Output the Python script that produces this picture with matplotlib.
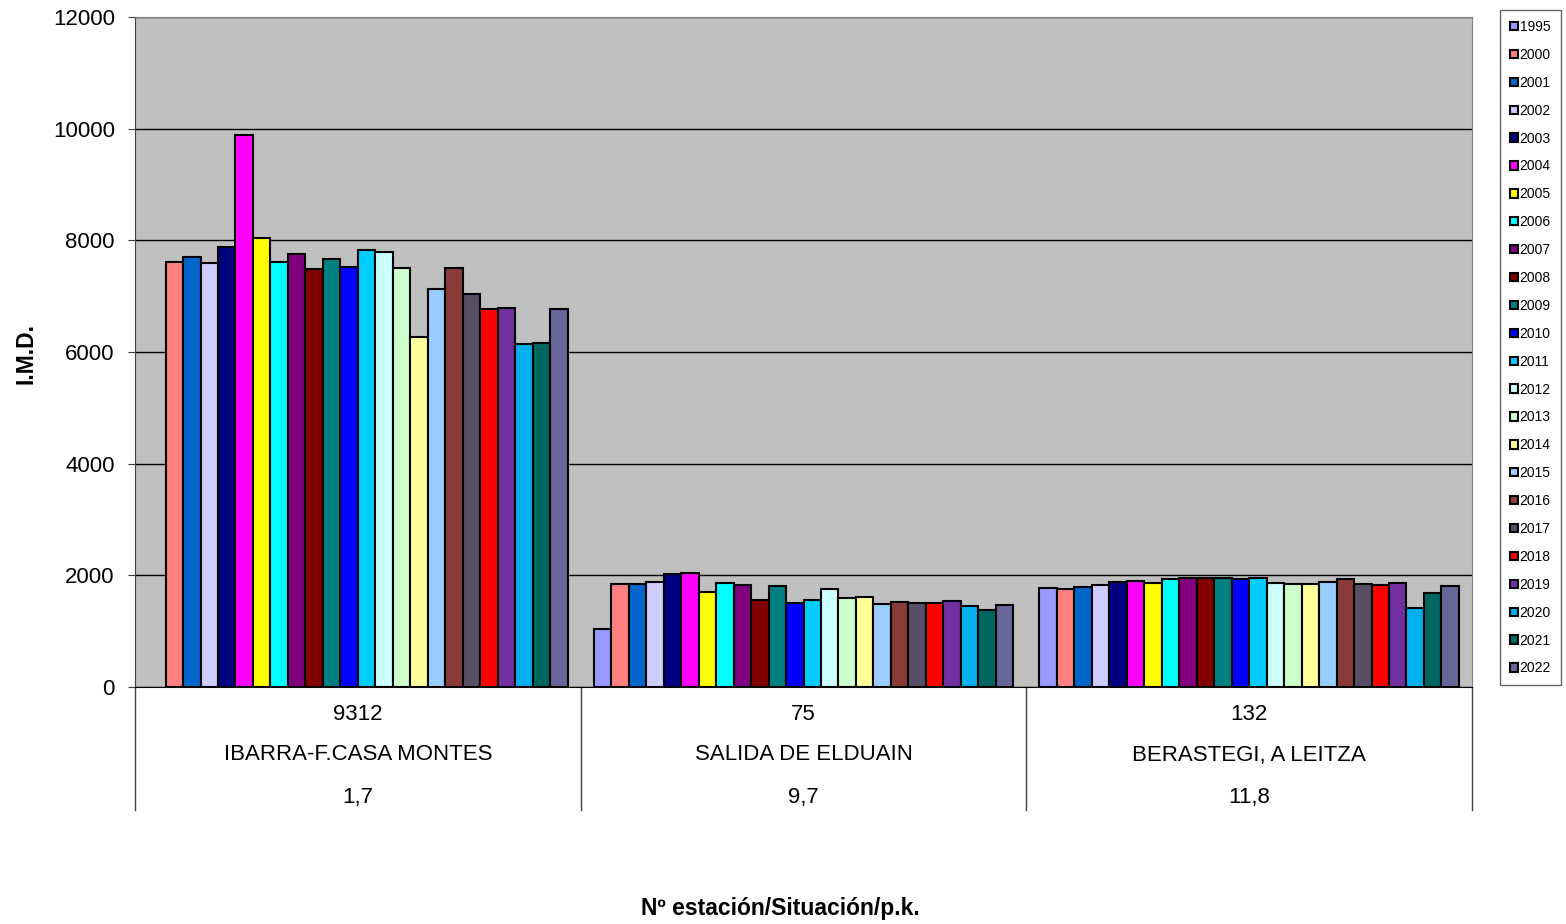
import matplotlib
matplotlib.use("Agg")
import matplotlib.pyplot as plt
import matplotlib.transforms as mtransforms
import numpy as np

plt.rcParams['font.family'] = ['Liberation Sans', 'DejaVu Sans']

years = ['1995', '2000', '2001', '2002', '2003', '2004', '2005', '2006', '2007', '2008',
         '2009', '2010', '2011', '2012', '2013', '2014', '2015', '2016', '2017', '2018',
         '2019', '2020', '2021', '2022']
colors = ['#9999FF', '#FF8080', '#0066CC', '#CCCCFF', '#000080', '#FF00FF', '#FFFF00',
          '#00FFFF', '#800080', '#800000', '#008080', '#0000FF', '#00CCFF', '#CCFFFF',
          '#CCFFCC', '#FFFF99', '#99CCFF', '#8B3A3A', '#564F66', '#FF0000', '#7030A0',
          '#00B0F0', '#006660', '#666699']

stations = ['9312', '75', '132']
places = ['IBARRA-F.CASA MONTES', 'SALIDA DE ELDUAIN', 'BERASTEGI, A LEITZA']
pks = ['1,7', '9,7', '11,8']

# one list per station, ordered like `years` (None = no data)
ibarra = [None, 7610, 7700, 7600, 7880, 9880, 8040, 7620, 7760, 7490, 7670, 7530, 7820,
          7800, 7510, 6270, 7120, 7500, 7030, 6770, 6790, 6150, 6170, 6770]
elduain = [1040, 1850, 1840, 1880, 2020, 2040, 1700, 1860, 1820, 1550, 1810, 1510, 1550,
           1760, 1590, 1620, 1480, 1530, 1510, 1500, 1540, 1450, 1380, 1470]
berastegi = [1780, 1750, 1800, 1830, 1880, 1900, 1860, 1930, 1960, 1950, 1960, 1930, 1950,
             1870, 1840, 1850, 1880, 1930, 1850, 1820, 1860, 1410, 1680, 1810]

data = [ibarra, elduain, berastegi]

fig = plt.figure(figsize=(15.66, 9.24), dpi=100)
ax = fig.add_axes([135 / 1566, 1 - 687 / 924, (1472 - 135) / 1566, (687 - 17) / 924])
ax.set_facecolor('#C0C0C0')

n = len(years)
w = 1 / (n + 1.5)
x = np.arange(len(stations))
handles = []
for j, yr in enumerate(years):
    vals = [np.nan if d[j] is None else d[j] for d in data]
    b = ax.bar(x + (j - (n - 1) / 2) * w, vals, width=w, color=colors[j],
               edgecolor='black', linewidth=1.5, label=yr, zorder=3)
    handles.append(b)

ax.set_xlim(-0.5, 2.5)
ax.set_ylim(0, 12000)
ax.set_yticks(range(0, 12001, 2000))
ax.yaxis.grid(True, color='black', linewidth=1, zorder=1)
ax.tick_params(axis='y', labelsize=16, length=5, color='#404040', pad=9.5)
ax.set_xticks([])
for s in ['top', 'right']:
    ax.spines[s].set_color('#808080')
ax.spines['left'].set_color('#404040')
ax.spines['bottom'].set_color('black')

# category table below the axis
trans = mtransforms.blended_transform_factory(ax.transData, ax.transAxes)
ph = (687 - 17)
for xb in [-0.5, 0.5, 1.5, 2.5]:
    ax.plot([xb, xb], [0, -(810 - 687) / ph], color='#404040', lw=1,
            transform=trans, clip_on=False)
for i in range(len(stations)):
    ax.text(i, -(714 - 687) / ph, stations[i], transform=trans, ha='center', va='center', fontsize=16)
    ax.text(i, -(755 - 687) / ph, places[i], transform=trans, ha='center', va='center', fontsize=16)
    ax.text(i, -(797 - 687) / ph, pks[i], transform=trans, ha='center', va='center', fontsize=16)

fig.text(780 / 1566, 1 - 908 / 924, 'Nº estación/Situación/p.k.', ha='center', va='center',
         fontsize=16.5, fontweight='bold')
fig.text(26 / 1566, 1 - 353 / 924, 'I.M.D.', ha='center', va='center', rotation=90,
         fontsize=16.5, fontweight='bold')

leg = fig.legend(handles=handles, loc='upper left', bbox_to_anchor=(1500 / 1566, 1 - 10 / 924),
                 fontsize=10, frameon=True, fancybox=False, edgecolor='#404040',
                 handlelength=0.55, handleheight=0.55, handletextpad=0.15,
                 labelspacing=1.0, borderpad=0.72, borderaxespad=0)
leg.get_frame().set_linewidth(1)

fig.savefig('out.png', dpi=100)
